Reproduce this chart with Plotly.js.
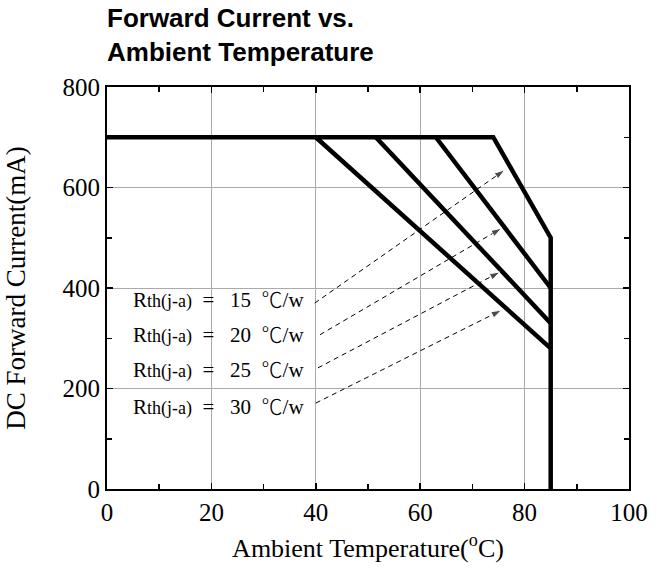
<!DOCTYPE html>
<html>
<head>
<meta charset="utf-8">
<script src="https://cdn.plot.ly/plotly-3.0.1.min.js"></script>
<style>html,body{margin:0;padding:0;background:#fff;}</style>
</head>
<body>
<div id="chart" style="width:664px;height:570px;"></div>
<script>
// Derating curves (Ambient temperature in °C, DC forward current in mA)
var rth15Temp = [0, 74, 85, 85];
var rth15Curr = [700, 700, 500, 0];
var rth20Temp = [63, 85];
var rth20Curr = [700, 400];
var rth25Temp = [51.5, 85];
var rth25Curr = [700, 330];
var rth30Temp = [40, 85];
var rth30Curr = [700, 280];

// Labels and their pointer arrows
var rthValues = [15, 20, 25, 30];
var labelTemp = [4.6, 4.6, 4.6, 4.6];
var labelCurr = [381, 311, 241, 168];
var arrowStartTemp = [39.8, 40.8, 40.4, 40.0];
var arrowStartCurr = [370, 307, 241, 171];
var arrowEndTemp = [76.2, 75.6, 75.3, 75.6];
var arrowEndCurr = [635, 519, 432, 356];

var xTicks = [0, 20, 40, 60, 80, 100];
var yTicks = [0, 200, 400, 600, 800];

var serif = '"Liberation Serif", "Times New Roman", serif';
var sans = '"Liberation Sans", Arial, sans-serif';
var nb = '\u00a0';

var traces = [];
var curves = [[rth15Temp, rth15Curr], [rth20Temp, rth20Curr], [rth25Temp, rth25Curr], [rth30Temp, rth30Curr]];
curves.forEach(function (c, i) {
  traces.push({
    x: c[0], y: c[1], type: 'scatter', mode: 'lines',
    name: 'Rth ' + rthValues[i],
    line: {color: '#000', width: 4.5},
    hoverinfo: 'x+y'
  });
});

var annotations = [];
for (var i = 0; i < rthValues.length; i++) {
  traces.push({
    x: [arrowStartTemp[i], arrowEndTemp[i]],
    y: [arrowStartCurr[i], arrowEndCurr[i]],
    type: 'scatter', mode: 'lines+markers',
    line: {color: '#000', width: 1, dash: '5px,4px'},
    marker: {symbol: ['circle', 'arrow'], size: [0, 11], angleref: 'previous', color: '#000'},
    hoverinfo: 'skip'
  });
  annotations.push({
    x: labelTemp[i], y: labelCurr[i], xref: 'x', yref: 'y',
    xanchor: 'left', yanchor: 'middle', showarrow: false,
    text: 'R<span style="font-size:18px">th(j-a)</span>' + nb + nb + '=' + nb + nb + nb + rthValues[i] + nb + nb +
          '<span style="font-family:\'Noto Sans CJK JP\';font-weight:300">\u2103</span>/w',
    font: {family: serif, size: 21, color: '#000'}
  });
}

var axisCommon = {
  showline: true, linecolor: '#000', linewidth: 2, mirror: 'ticks',
  showgrid: true, gridcolor: '#aaaaaa', gridwidth: 1,
  ticks: 'inside', ticklen: 6, tickwidth: 1.5, tickcolor: '#000',
  zeroline: false, tickfont: {family: serif, size: 25, color: '#000'}
};

var layout = {
  width: 664, height: 570,
  margin: {l: 107, r: 35, t: 87, b: 81},
  paper_bgcolor: '#fff', plot_bgcolor: '#fff',
  showlegend: false,
  title: {
    text: '<b>Forward Current vs.<br>Ambient Temperature</b>',
    font: {family: sans, size: 26, color: '#000'},
    x: 0, xref: 'paper', xanchor: 'left',
    y: 1 - 27 / 570, yref: 'container', yanchor: 'top'
  },
  xaxis: Object.assign({}, axisCommon, {
    range: [0, 100], tickvals: xTicks, ticktext: xTicks.map(String),
    minor: {dtick: 10, tick0: 0, ticks: 'inside', ticklen: 5, tickwidth: 1.5, tickcolor: '#000', showgrid: false},
    title: {text: 'Ambient Temperature(<sup>o</sup>C)', font: {family: serif, size: 26, color: '#000'}, standoff: 14}
  }),
  yaxis: Object.assign({}, axisCommon, {
    range: [0, 800], tickvals: yTicks, ticktext: yTicks.map(String),
    minor: {dtick: 100, tick0: 0, ticks: 'inside', ticklen: 5, tickwidth: 1.5, tickcolor: '#000', showgrid: false},
    title: {text: 'DC Forward Current(mA)', font: {family: serif, size: 27, color: '#000'}, standoff: 29}
  }),
  annotations: annotations
};

Plotly.newPlot('chart', traces, layout, {displayModeBar: false, staticPlot: true});
</script>
</body>
</html>
